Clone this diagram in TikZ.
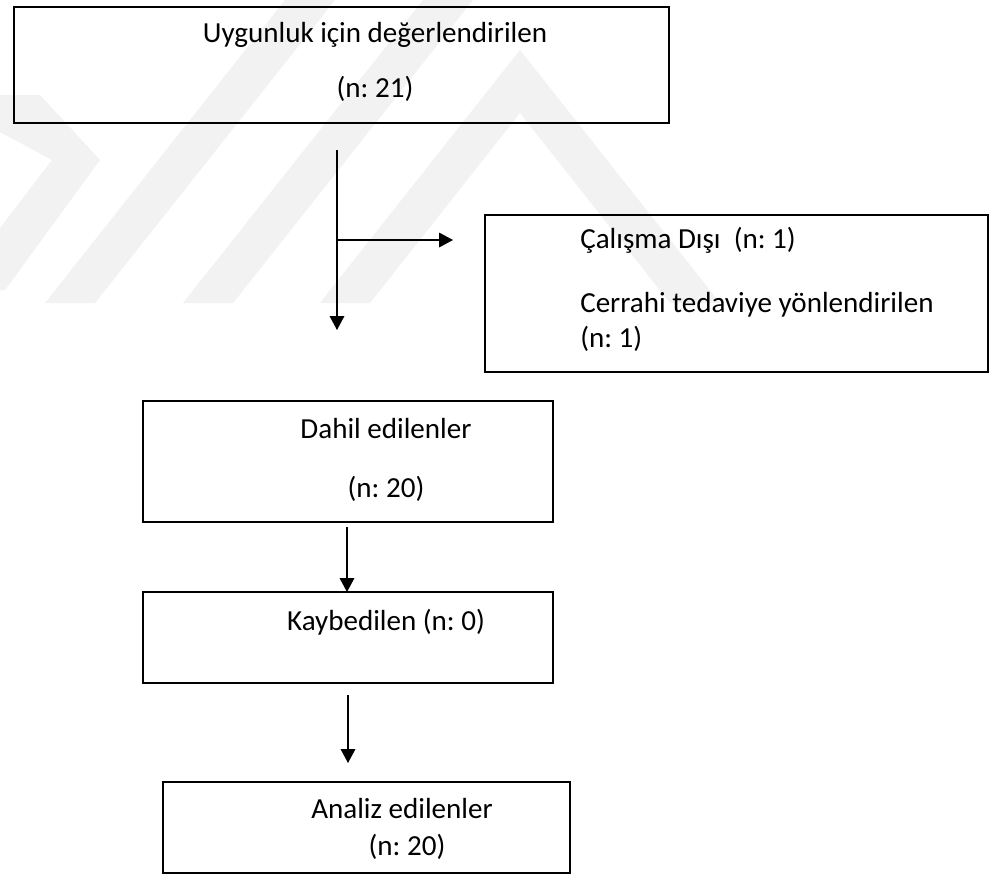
\documentclass[tikz,border=0pt]{standalone}
\usepackage{fontspec}
\setmainfont{Carlito}
\usetikzlibrary{arrows.meta}
\frenchspacing
\begin{document}
\begin{tikzpicture}[x=0.75pt,y=-0.75pt,
  wm/.style={fill=black!5,draw=none},
  box/.style={draw=black,line width=1.4pt},
  txt/.style={anchor=base,inner sep=0pt,font=\fontsize{21.8pt}{26pt}\selectfont\frenchspacing},
  ltxt/.style={txt,anchor=base west},
  conn/.style={line width=1pt,-{Triangle[length=10.5pt,width=11pt]}}]
\useasboundingbox (0,0) rectangle (992,875);
\fill[white] (0,0) rectangle (992,875);
% watermark
\fill[wm] (0,95) -- (40,95) -- (100,160) -- (5,290) -- (0,290) -- (0,228) -- (52,160) -- (0,132) -- cycle;
\fill[wm] (45,303) -- (95,303) -- (335,0) -- (285,0) -- cycle;
\fill[wm] (183,303) -- (233,303) -- (473,0) -- (423,0) -- cycle;
\fill[wm] (320,303) -- (520,50) -- (720,303) -- (670,303) -- (520,113) -- (370,303) -- cycle;
% boxes
\draw[box] (14,7) rectangle (669,123);
\node[txt] (t1) at (375,42) {Uygunluk için değerlendirilen};
\node[txt] (t1b) at (375,97) {(n: 21)};
\draw[box] (485,215) rectangle (988,372);
\node[ltxt] (t2) at (580,248) {Çalışma Dışı\ \ (n: 1)};
\node[ltxt] (t2b) at (580,312) {Cerrahi tedaviye yönlendirilen};
\node[ltxt] (t2c) at (580,347) {(n: 1)};
\draw[box] (143,401) rectangle (553,522);
\node[txt] (t3) at (386,438) {Dahil edilenler};
\node[txt] (t3b) at (386,497) {(n: 20)};
\draw[box] (143,592) rectangle (553,683);
\node[txt] (t4) at (386,630) {Kaybedilen (n: 0)};
\draw[box] (163,782) rectangle (570,873);
\node[txt] (t5) at (402,818) {Analiz edilenler};
\node[txt] (t5b) at (407,855) {(n: 20)};
% connectors
\coordinate (a1) at (337,150);
\coordinate (a2) at (337,330);
\coordinate (b1) at (337,240);
\coordinate (b2) at (453,240);
\coordinate (c1) at (347,527);
\coordinate (c2) at (347,592);
\coordinate (d1) at (348,695);
\coordinate (d2) at (348,763);
\draw[conn] (a1) -- (a2);
\draw[conn] (b1) -- (b2);
\draw[conn] (c1) -- (c2);
\draw[conn] (d1) -- (d2);
\end{tikzpicture}
\end{document}
